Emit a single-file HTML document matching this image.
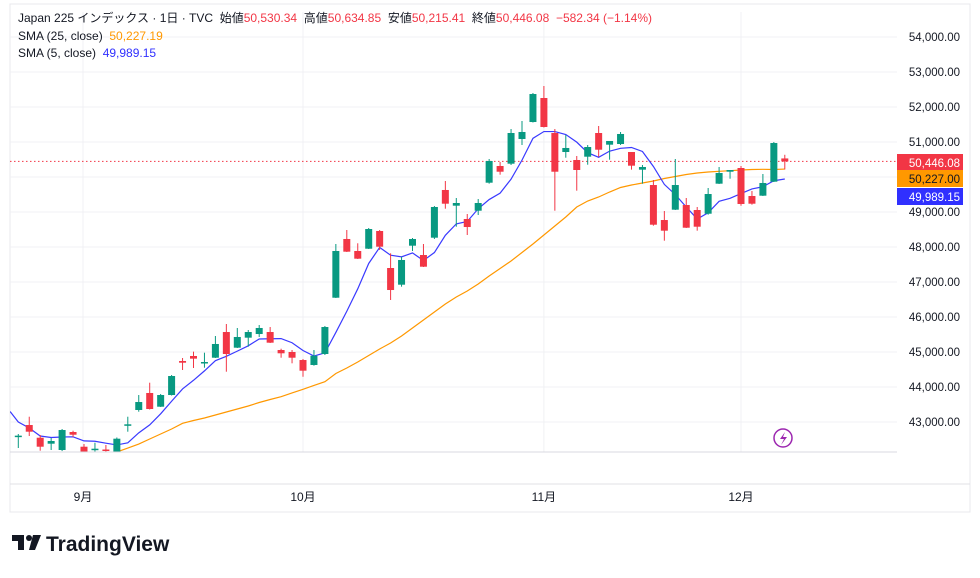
<!DOCTYPE html>
<html><head><meta charset="utf-8"><style>
body{margin:0;background:#fff;width:980px;height:573px;overflow:hidden;font-family:"Liberation Sans","Noto Sans CJK JP",sans-serif;}
svg text{font-family:"Liberation Sans","Noto Sans CJK JP",sans-serif;white-space:pre;}
</style></head><body>
<svg id="chart" width="980" height="573" xmlns="http://www.w3.org/2000/svg">
<rect x="10" y="4" width="960" height="508" fill="#fff" stroke="#e8e8ec"/>
<g id="grid"></g>
<g id="sma25g"></g><g id="sma5g"></g><g id="candles"></g>
<line x1="10" y1="452" x2="897" y2="452" stroke="#d8d8e0"/>
<line x1="10" y1="484" x2="970" y2="484" stroke="#e0e0e6"/>
<g id="yaxis"></g><g id="xaxis"></g>
<g font-size="12">
<text x="18" y="22" fill="#131722" xml:space="preserve">Japan 225 インデックス · 1日 · TVC  始値<tspan fill="#f23645">50,530.34</tspan>  高値<tspan fill="#f23645">50,634.85</tspan>  安値<tspan fill="#f23645">50,215.41</tspan>  終値<tspan fill="#f23645">50,446.08</tspan>  <tspan fill="#f23645">−582.34 (−1.14%)</tspan></text>
<text x="18" y="40" fill="#131722" xml:space="preserve">SMA (25, close)  <tspan fill="#ff9800">50,227.19</tspan></text>
<text x="18" y="57" fill="#131722" xml:space="preserve">SMA (5, close)  <tspan style="fill:#3030ff">49,989.15</tspan></text>
</g>
<g><circle cx="783" cy="438" r="9" fill="none" stroke="#9c27b0" stroke-width="1.5"/><path d="M785 432 L780 439 L784 439 L781 445 L787 437 L783 437 Z" fill="#9c27b0"/></g>
<g><path d="M12 535 h12 v15 h-6 v-9 h-6z" fill="#131722"/><circle cx="29" cy="538" r="3" fill="#131722"/><path d="M33 535 h8 l-6 15 h-6z" fill="#131722"/><text x="46" y="551" font-size="21" font-weight="bold" fill="#131722">TradingView</text></g>
</svg>
<script>
const opens=[42590,42914,42551,42380,42200,42714,42294,42220,42214,42080,42914,43343,43829,43437,43771,44743,44886,44677,44837,45571,45123,45409,45514,45571,45057,45000,44771,44629,44943,46551,48229,47886,47951,48457,47400,46923,48037,47771,48266,49629,49180,48800,49037,49837,50314,50380,51086,51571,52257,51257,50714,50486,50580,51257,50923,50943,50714,50209,49771,48771,49066,49200,49057,48951,49809,50151,50257,49457,49466,49866,50530.34];
const highs=[42657,43151,42629,42543,42800,42751,42371,42409,42343,42557,43151,43771,44123,43800,44343,44829,45009,44980,45457,45800,45686,45629,45771,45714,45094,45057,44800,45057,45743,48086,48486,48106,48543,48486,47820,47723,48257,48086,49171,49886,49400,48943,49371,50514,50429,51371,51600,52400,52600,51371,51200,50600,50914,51457,51029,51286,50714,50343,49914,49029,50514,49400,49143,49686,50286,50200,50314,49600,50086,51000,50634.85];
const lows=[42257,42600,42180,42200,42170,42571,42057,42143,42129,42040,42723,43294,43357,43429,43757,44486,44543,44551,44829,44437,45114,45152,45429,45257,44837,44677,44294,44609,44914,46543,47857,47657,47943,47914,46486,46866,47886,47429,48229,49094,48580,48343,48914,49809,50066,50343,50914,51557,51414,49037,50551,49609,50351,50580,50494,50914,50209,49809,48609,48180,49057,48543,48466,48923,49800,49951,49180,49209,49457,49857,50215.41];
const closes=[42610,42723,42294,42457,42771,42637,42143,42237,42186,42523,42934,43571,43371,43771,44314,44694,44810,44714,45229,44943,45429,45571,45686,45266,44963,44837,44466,44894,45714,47886,47866,47666,48514,48009,46771,47629,48229,47437,49143,49237,49257,48571,49257,50457,50151,51257,51286,52371,51429,50151,50829,50200,50857,50780,51029,51229,50323,50286,48637,48466,49771,48551,48580,49514,50114,50200,49229,49237,49829,50971,50446.08];
const priorCloses=[43580,43437,42671,42702];
const sma25Start=9;
const sma25=[42143,42257,42371,42514,42657,42800,42963,43043,43114,43200,43286,43371,43457,43557,43643,43723,43829,43934,44043,44151,44386,44543,44714,44900,45086,45257,45457,45686,45914,46143,46371,46571,46743,46943,47171,47386,47600,47843,48086,48343,48600,48857,49143,49314,49429,49571,49700,49771,49829,49886,49957,50014,50071,50114,50143,50163,50180,50200,50214,50220,50214,50227];
const yTicks=[54000,53000,52000,51000,50000,49000,48000,47000,46000,45000,44000,43000];
const months=["9月","10月","11月","12月"];
const monthIdx=[6,26,48,66];
const NS="http://www.w3.org/2000/svg";
const X=i=>18.3+i*10.95;
const Y=p=>37+(54000-p)*0.035;
function mk(tag,attrs,parent){const e=document.createElementNS(NS,tag);for(const k in attrs)e.setAttribute(k,attrs[k]);document.getElementById(parent).appendChild(e);return e;}
const fmt=v=>v.toLocaleString('en-US',{minimumFractionDigits:2,maximumFractionDigits:2});
yTicks.forEach(t=>{
 const g=mk('line',{x1:10,x2:897,y1:Y(t),y2:Y(t),stroke:'#f0f1f4'},'grid');
 
 
 const tx=mk('text',{x:960,y:Y(t)+4,'text-anchor':'end','font-size':'11.5',fill:'#131722'},'yaxis');
 tx.textContent=fmt(t);
 
 
});
months.forEach((m,k)=>{
 const x=X(monthIdx[k])+(k==0?-1:0);
 const gl=mk('line',{x1:x,x2:x,y1:12,y2:452,stroke:'#f0f1f4'},'grid');
 
 
 const t=mk('text',{x:x,y:501,'text-anchor':'middle','font-size':'12',fill:'#131722'},'xaxis');
 t.textContent=m;
 
 
});
const lp=mk('line',{x1:10,x2:897,y1:Y(closes[closes.length-1]),y2:Y(closes[closes.length-1]),stroke:'#f23645','stroke-dasharray':'1.5 2.5'},'grid');


const clip=mk('clipPath',{id:'cp'},'grid');mk('rect',{x:10,y:12,width:887,height:440},'cp');
['sma25g','sma5g','candles'].forEach(id=>document.getElementById(id).setAttribute('clip-path','url(#cp)'));
const all=priorCloses.concat(closes);
let p5=[];closes.forEach((c,i)=>{let s=0;for(let j=0;j<5;j++)s+=all[i+4-j];p5.push(X(i)+','+Y(s/5));});
p5.unshift((X(-0.75))+','+Y((priorCloses.reduce((a,b)=>a+b,0)+closes[0])/5+300));
const l5=mk('polyline',{points:p5.join(' '),fill:'none',stroke:'#3a3aff','stroke-width':1.2},'sma5g');


const p25=sma25.map((v,k)=>X(sma25Start+k)+','+Y(v));
const l25=mk('polyline',{points:p25.join(' '),fill:'none',stroke:'#ff9800','stroke-width':1.2},'sma25g');


closes.forEach((c,i)=>{
 const o=opens[i],up=c>=o,col=up?'#089981':'#f23645',x=X(i);
 const w=mk('line',{x1:x,x2:x,y1:Y(highs[i]),y2:Y(lows[i]),stroke:col,'stroke-width':1},'candles');
 
 
 const t=Y(Math.max(o,c)),b=Y(Math.min(o,c));
 const r=mk('rect',{x:x-3.5,y:t,width:7,height:Math.max(b-t,1.5),fill:col},'candles');
 
 
});
const tags=[[closes[closes.length-1],'#f23645','last-price-tag'],[sma25[sma25.length-1],'#ff9800','sma25-tag'],[49989.15,'#3030ff','sma5-tag']];
const tagY=[163,179,197];
tags.forEach((tg,k)=>{
 const r=mk('rect',{x:897,y:tagY[k]-9,width:66,height:17,fill:tg[1]},'yaxis');
 
 
 const t=mk('text',{x:960,y:tagY[k]+4,'text-anchor':'end','font-size':'11.5',fill:k==1?'#131722':'#fff'},'yaxis');
 t.textContent=fmt(tg[0]);
 
 
});
</script>
</body></html>
